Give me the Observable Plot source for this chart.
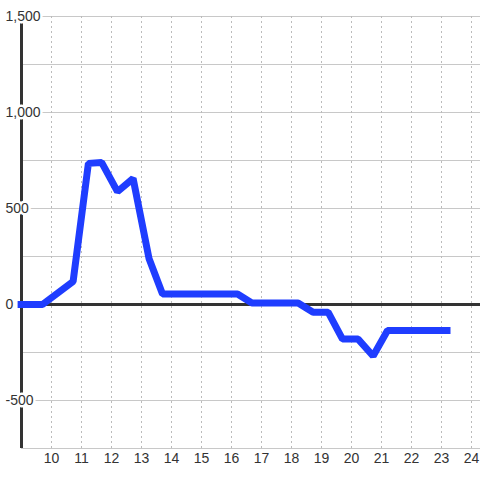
<!DOCTYPE html>
<html>
<head>
<meta charset="utf-8">
<script src="https://cdn.jsdelivr.net/npm/d3@7"></script>
<script src="https://cdn.jsdelivr.net/npm/@observablehq/plot@0.6"></script>
<style>
  html, body { margin: 0; padding: 0; background: #fff; }
  #chart svg { display: block; }
</style>
</head>
<body>
<div id="chart"></div>
<script>
const hours  = [8.87, 9.7, 10.72, 11.23, 11.67, 12.2, 12.72, 13.25, 13.7, 16.2, 16.68, 18.22, 18.72, 19.22, 19.7, 20.22, 20.72, 21.2, 23.3];
const values = [0, 0, 120, 735, 740, 588, 656, 240, 55, 55, 8, 8, -40, -40, -180, -180, -268, -135, -135];
const xTicks = [10, 11, 12, 13, 14, 15, 16, 17, 18, 19, 20, 21, 22, 23, 24];
const yTicks = [-500, 0, 500, 1000, 1500];
const yGrid  = [-750, -500, -250, 0, 250, 500, 750, 1000, 1250, 1500];

const data = hours.map((h, i) => ({x: h, y: values[i]}));
const fmt = d => d3.format(",")(d).replace("\u2212", "-");

const chart = Plot.plot({
  width: 480,
  height: 480,
  marginTop: 16,
  marginBottom: 32,
  marginLeft: 21,
  marginRight: 0,
  style: {fontFamily: "'Liberation Sans', Arial, sans-serif", fontSize: "14px", color: "#333", background: "#fff"},
  x: {domain: [9, 24.3], axis: null},
  y: {domain: [-750, 1500], axis: null},
  marks: [
    Plot.ruleY(yGrid, {stroke: "#c8c8c8", strokeWidth: 1}),
    Plot.ruleX(xTicks, {stroke: "#bbb", strokeWidth: 1, strokeDasharray: "2,3"}),
    Plot.ruleY([0], {stroke: "#333", strokeWidth: 3}),
    Plot.ruleX([9], {stroke: "#333", strokeWidth: 3}),
    Plot.text(yTicks, {x: 9, y: d => d, text: fmt, textAnchor: "start", dx: -16, fill: "#333", stroke: "white", strokeWidth: 5, fontSize: 14}),
    Plot.line(data, {x: "x", y: "y", stroke: "#1f3dff", strokeWidth: 7, strokeLinejoin: "miter", strokeLinecap: "butt"}),
    Plot.axisX(xTicks, {tickSize: 0, tickPadding: 5, fontSize: 14, fill: "#333", tickFormat: d => d, label: null})
  ]
});
document.getElementById("chart").appendChild(chart);
</script>
</body>
</html>
